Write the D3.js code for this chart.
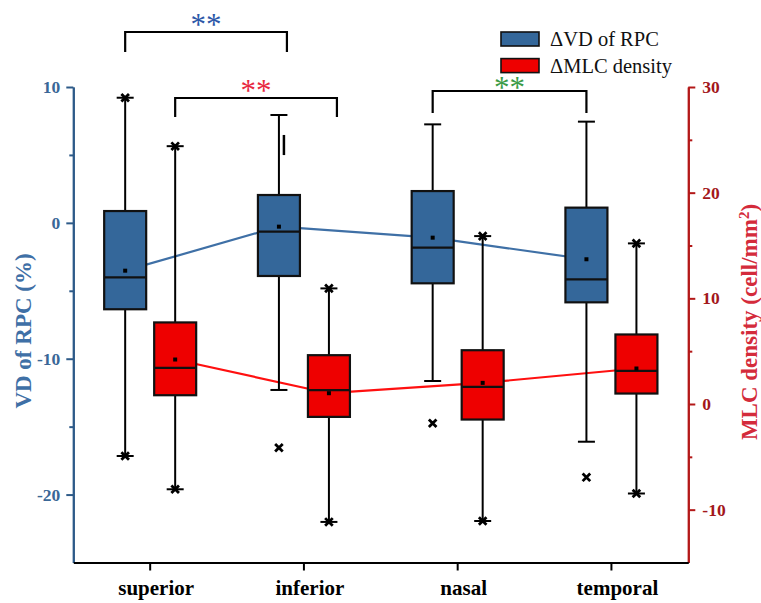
<!DOCTYPE html>
<html>
<head>
<meta charset="utf-8">
<script src="https://cdn.jsdelivr.net/npm/d3@7"></script>
<style>
  body { margin: 0; background: #fff; }
  text { font-family: "Liberation Serif", "Times New Roman", serif; }
</style>
</head>
<body>
<svg id="chart" width="761" height="603"></svg>
<script>
var regions = ["superior", "inferior", "nasal", "temporal"];

// ΔVD of RPC (%) - left axis
var vdQ1     = [-6.36, -3.91, -4.45, -5.85];
var vdMedian = [-4.01, -0.65, -1.83, -4.16];
var vdQ3     = [0.87, 2.05, 2.34, 1.12];
var vdMean   = [-3.52, -0.28, -1.09, -2.68];
var vdLow    = [-17.16, -12.3, -11.64, -16.11];
var vdHigh   = [9.21, 7.94, 7.25, 7.45];
var vdEndMark = ["star", "cap", "cap", "cap"];
var vdOutliers = [[], [-16.55], [-14.75], [-18.73]];
var vdMaxBar = [null, [4.99, 6.47], null, null];

// ΔMLC density (cell/mm2) - right axis
var mlcQ1     = [0.83, -1.22, -1.47, 0.99];
var mlcMedian = [3.42, 1.31, 1.62, 3.13];
var mlcQ3     = [7.72, 4.62, 5.09, 6.58];
var mlcMean   = [4.21, 1.02, 2.0, 3.36];
var mlcLow    = [-8.07, -11.16, -11.07, -8.47];
var mlcHigh   = [24.4, 10.94, 15.89, 15.2];
var mlcEndMark = ["star", "star", "star", "star"];

var leftTicks = [-20, -10, 0, 10];
var leftMinor = [-15, -5, 5];
var rightTicks = [-10, 0, 10, 20, 30];
var rightMinor = [-5, 5, 15, 25];

// significance brackets: from / to region index, which series
var brackets = [
  { from: 0, to: 1, series: "vd",  label: "**", color: "#2c57a8" },
  { from: 0, to: 1, series: "mlc", label: "**", color: "#e8283f" },
  { from: 2, to: 3, series: "vd",  label: "**", color: "#3b9b47" }
];
var bracketTop = [32, 98, 91];
var bracketLeg = [20, 19, 22];
var bracketShift = [8, 8, 0];
var starLift = [0, 0, -4];

var svg = d3.select("#chart");
var plotL = 73.3, plotR = 688.3, plotT = 87, plotB = 562.5;

var x = d3.scaleBand().domain(regions).range([plotL, plotR]);
var yL = d3.scaleLinear().domain([-25, 10]).range([plotB, plotT]);
var yR = d3.scaleLinear().domain([-15, 30]).range([plotB, plotT]);
function cx(i) { return x(regions[i]) + x.bandwidth() / 2; }

var series = [
  { key: "vd", scale: yL, dx: -25, fill: "#34679a", line: "#3f70a6",
    q1: vdQ1, med: vdMedian, q3: vdQ3, mean: vdMean, low: vdLow, high: vdHigh,
    ends: vdEndMark, outliers: vdOutliers },
  { key: "mlc", scale: yR, dx: 25, fill: "#ee0000", line: "#ff1010",
    q1: mlcQ1, med: mlcMedian, q3: mlcQ3, mean: mlcMean, low: mlcLow, high: mlcHigh,
    ends: mlcEndMark, outliers: [[], [], [], []] }
];
var boxW = 42, capW = 17;

// mean lines go under the boxes
series.forEach(function(s) {
  var line = d3.line()
    .x(function(d, i) { return cx(i) + s.dx; })
    .y(function(d) { return s.scale(d); });
  svg.append("path").attr("d", line(s.mean))
    .attr("fill", "none").attr("stroke", s.line).attr("stroke-width", 2.2);
});

function xMark(g, px, py, r) {
  g.append("path")
    .attr("d", "M" + (px - r) + "," + (py - r) + "L" + (px + r) + "," + (py + r) +
               "M" + (px - r) + "," + (py + r) + "L" + (px + r) + "," + (py - r))
    .attr("stroke", "#000").attr("stroke-width", 2.8).attr("fill", "none");
}

series.forEach(function(s) {
  var g = svg.append("g").attr("class", "box-" + s.key);
  regions.forEach(function(r, i) {
    var c = cx(i) + s.dx, sc = s.scale;
    // whisker
    g.append("line").attr("x1", c).attr("x2", c)
      .attr("y1", sc(s.high[i])).attr("y2", sc(s.low[i]))
      .attr("stroke", "#000").attr("stroke-width", 2);
    [s.high[i], s.low[i]].forEach(function(v) {
      g.append("line").attr("x1", c - capW / 2).attr("x2", c + capW / 2)
        .attr("y1", sc(v)).attr("y2", sc(v))
        .attr("stroke", "#000").attr("stroke-width", 2);
      if (s.ends[i] == "star") xMark(g, c, sc(v), 3.8);
    });
    // box
    g.append("rect").attr("x", c - boxW / 2).attr("width", boxW)
      .attr("y", sc(s.q3[i])).attr("height", sc(s.q1[i]) - sc(s.q3[i]))
      .attr("fill", s.fill).attr("stroke", "#111").attr("stroke-width", 2.2);
    g.append("line").attr("x1", c - boxW / 2).attr("x2", c + boxW / 2)
      .attr("y1", sc(s.med[i])).attr("y2", sc(s.med[i]))
      .attr("stroke", "#111").attr("stroke-width", 2.2);
    g.append("rect").attr("x", c - 2).attr("y", sc(s.mean[i]) - 2)
      .attr("width", 4).attr("height", 4).attr("fill", "#000");
    s.outliers[i].forEach(function(v) { xMark(g, c, sc(v), 3.8); });
    if (s.key == "vd" && vdMaxBar[i]) {
      g.append("line").attr("x1", c + 5).attr("x2", c + 5)
        .attr("y1", sc(vdMaxBar[i][1])).attr("y2", sc(vdMaxBar[i][0]))
        .attr("stroke", "#000").attr("stroke-width", 2.5);
    }
  });
});

// axes
function styleAxis(g, color, size) {
  g.select(".domain").attr("stroke", color).attr("stroke-width", 2);
  g.selectAll(".tick line").attr("stroke", color).attr("stroke-width", 2);
  g.selectAll(".tick text").attr("fill", color).attr("font-size", size)
    .attr("font-family", "Liberation Serif").attr("font-weight", "bold");
}

var fmt = function(d) { return String(d); };
var gL = svg.append("g").attr("transform", "translate(" + plotL + ",0)")
  .call(d3.axisLeft(yL).tickValues(leftTicks).tickFormat(fmt).tickSize(7).tickSizeOuter(0).tickPadding(6));
styleAxis(gL, "#2d5a88", 17.5);
gL.selectAll(".tick text").attr("fill", "#3a6797");
var gLm = svg.append("g").attr("transform", "translate(" + plotL + ",0)")
  .call(d3.axisLeft(yL).tickValues(leftMinor).tickFormat("").tickSize(4).tickSizeOuter(0));
styleAxis(gLm, "#2d5a88", 17);

var gR = svg.append("g").attr("transform", "translate(" + plotR + ",0)")
  .call(d3.axisRight(yR).tickValues(rightTicks).tickFormat(fmt).tickSize(7).tickSizeOuter(0).tickPadding(7));
styleAxis(gR, "#b31818", 17.5);
gR.selectAll(".tick text").attr("fill", "#a3171b");
var gRm = svg.append("g").attr("transform", "translate(" + plotR + ",0)")
  .call(d3.axisRight(yR).tickValues(rightMinor).tickFormat("").tickSize(4).tickSizeOuter(0));
styleAxis(gRm, "#b31818", 17);

var gB = svg.append("g").attr("transform", "translate(0," + plotB + ")")
  .call(d3.axisBottom(x).tickSize(8).tickSizeOuter(0).tickPadding(10));
styleAxis(gB, "#000", 21);
gB.selectAll(".tick text").attr("dx", 6);

// axis titles
svg.append("text").attr("transform", "translate(31,331) rotate(-90)")
  .attr("text-anchor", "middle").attr("font-size", 23).attr("font-weight", "bold")
  .attr("fill", "#3f70a6").text("VD of RPC (%)");
var rt = svg.append("text").attr("transform", "translate(757,322) rotate(-90)")
  .attr("text-anchor", "middle").attr("font-size", 23).attr("font-weight", "bold")
  .attr("fill", "#d42b3b");
rt.append("tspan").text("MLC density (cell/mm");
rt.append("tspan").attr("baseline-shift", "super").attr("font-size", 15).text("2");
rt.append("tspan").text(")");

// brackets
brackets.forEach(function(b, k) {
  var s = b.series == "vd" ? series[0] : series[1];
  var x1 = cx(b.from) + s.dx, x2 = cx(b.to) + s.dx + bracketShift[k];
  var yt = bracketTop[k], yb = yt + bracketLeg[k];
  svg.append("path")
    .attr("d", "M" + x1 + "," + yb + "V" + yt + "H" + x2 + "V" + yb)
    .attr("fill", "none").attr("stroke", "#000").attr("stroke-width", 2.2);
  svg.append("text").attr("x", (x1 + x2) / 2).attr("y", yt + 3 - starLift[k])
    .attr("text-anchor", "middle").attr("font-family", "DejaVu Sans")
    .attr("font-size", 31).attr("fill", b.color).text(b.label);
});

// legend
var legend = [
  { label: "\u0394VD of RPC", fill: series[0].fill },
  { label: "\u0394MLC density", fill: series[1].fill }
];
legend.forEach(function(l, i) {
  var ly = 32 + i * 26.6;
  svg.append("rect").attr("x", 501).attr("y", ly).attr("width", 38).attr("height", 14)
    .attr("fill", l.fill).attr("stroke", "#111").attr("stroke-width", 1.6);
  svg.append("text").attr("x", 550).attr("y", ly + 14).attr("font-size", 20.5)
    .attr("fill", "#111").text(l.label);
});
</script>
</body>
</html>
